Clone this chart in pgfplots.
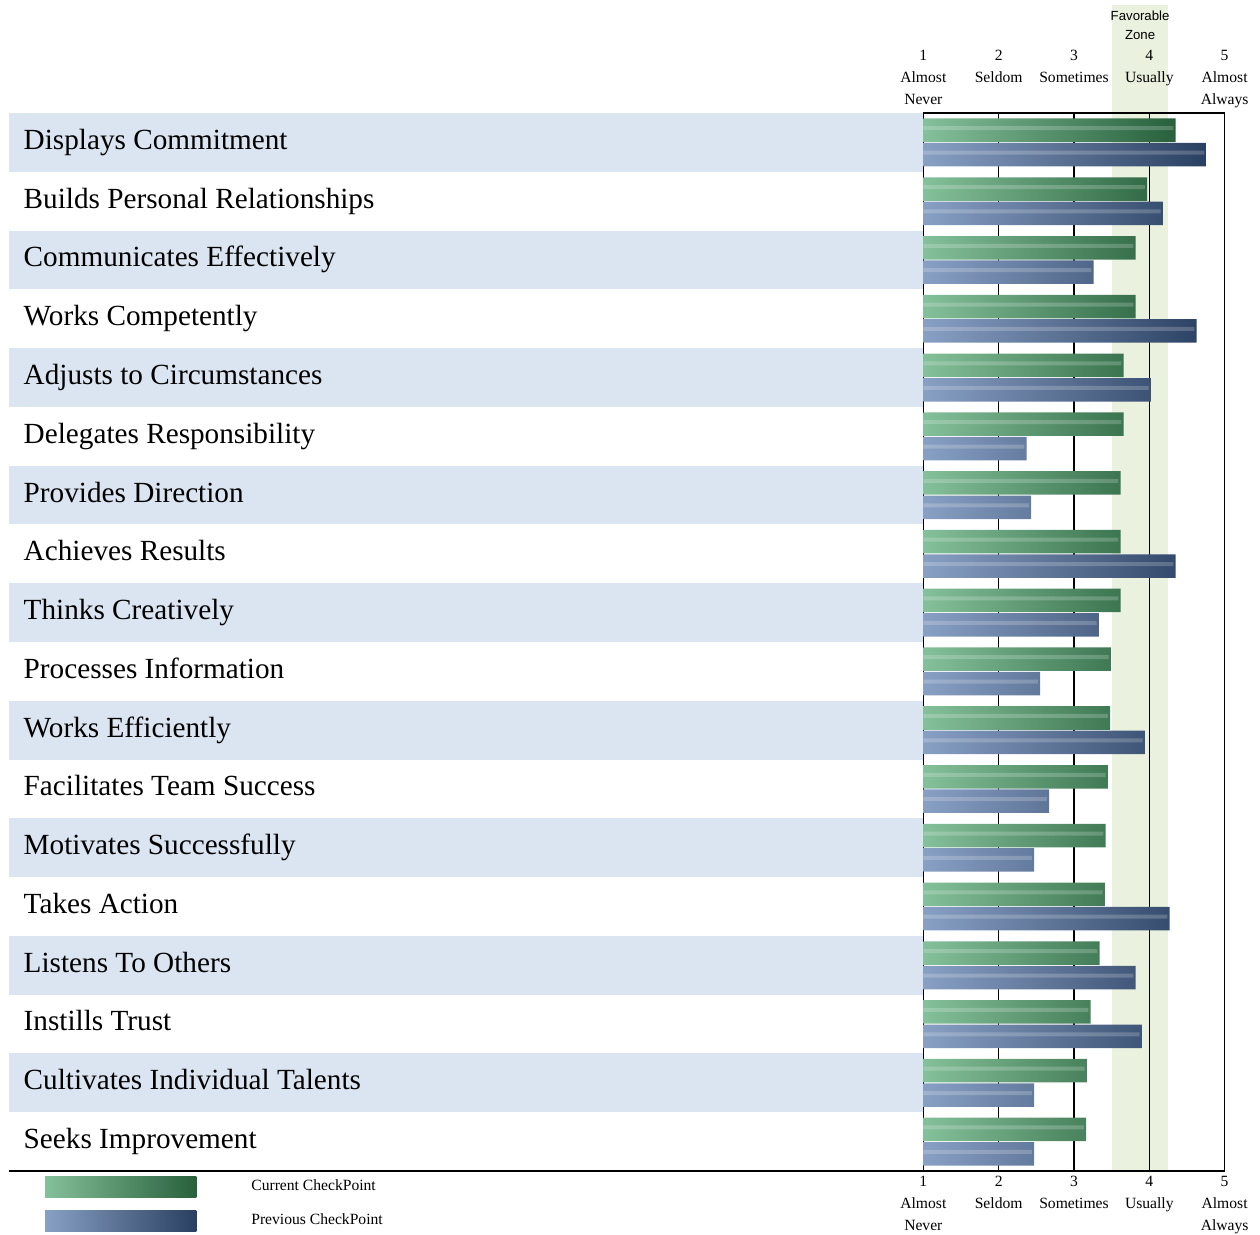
\documentclass[border=0pt]{standalone}
\usepackage{pgfplots}
\pgfplotsset{compat=1.18}
\usepackage{pgfplotstable}
\usepackage{fontspec}
\setmainfont{Liberation Serif}
\newfontfamily\zonefont{Liberation Sans}

\definecolor{bandblue}{RGB}{219,229,241}
\definecolor{zonegreen}{RGB}{234,241,222}
\definecolor{curlight}{RGB}{132,192,154}
\definecolor{curdark}{RGB}{40,96,60}
\definecolor{prevlight}{RGB}{136,160,196}
\definecolor{prevdark}{RGB}{42,64,98}

% scores on the 1..5 scale, row 0 = top
\pgfplotstableread{
idx cur prev
0 4.35 4.76
1 3.97 4.18
2 3.82 3.26
3 3.82 4.63
4 3.66 4.02
5 3.66 2.37
6 3.62 2.43
7 3.62 4.35
8 3.62 3.33
9 3.49 2.55
10 3.48 3.94
11 3.45 2.67
12 3.42 2.47
13 3.41 4.27
14 3.34 3.82
15 3.22 3.90
16 3.17 2.47
17 3.16 2.47
}\scores

\begin{document}
\begin{tikzpicture}
\begin{axis}[
    set layers,
    scale only axis,
    width=150.5pt, height=528.5pt,
    xmin=0, xmax=4, ymin=-0.5, ymax=17.5,
    y dir=reverse,
    clip=false,
    axis line style={line width=0.75pt},
    tick style={draw=none},
    xmajorgrids,
    grid style={black, line width=0.7pt},
    xtick={0,...,4},
    xticklabels={1\\Almost\\Never, 2\\Seldom, 3\\Sometimes, 4\\Usually, 5\\Almost\\Always},
    xticklabel style={font=\fontsize{7.8}{11}\selectfont, align=center, inner sep=0pt, yshift=-2.5pt},
    extra x ticks={0,...,4},
    extra x tick labels={1\\Almost\\Never, 2\\Seldom, 3\\Sometimes, 4\\Usually, 5\\Almost\\Always},
    extra x tick style={xticklabel pos=right, grid=none,
        xticklabel style={font=\fontsize{7.8}{11}\selectfont, align=center, inner sep=0pt,
            anchor=north, yshift=34pt}},
    ytick={0,...,17},
    yticklabels={Displays Commitment, Builds Personal Relationships, Communicates Effectively,
        Works Competently, Adjusts to Circumstances, Delegates Responsibility,
        Provides Direction, Achieves Results, Thinks Creatively, Processes Information,
        Works Efficiently, Facilitates Team Success, Motivates Successfully, Takes Action,
        Listens To Others, Instills Trust, Cultivates Individual Talents, Seeks Improvement},
    yticklabel style={font=\fontsize{14.6}{16}\selectfont, anchor=west, inner sep=0pt,
        text height=10.1pt, text depth=3.2pt, xshift=-449.6pt},
    legend style={draw=none, fill=none, inner sep=0pt, outer sep=0pt,
        at={(-2.915,-0.0050)}, anchor=north west, row sep=6.5pt,
        nodes={inner sep=0pt, font=\fontsize{7.8}{9}\selectfont}},
    legend cell align=left,
    legend image code/.code={\fill[#1] (0pt,-5.25pt) rectangle (75.5pt,5.25pt); \path (103pt,0pt);},
]
\begin{pgfonlayer}{axis background}
  \pgfplotsinvokeforeach{0,2,...,16}{
    \fill[bandblue] (axis cs:-12.14,#1-0.5) rectangle (axis cs:0,#1+0.5);
  }
  \fill[zonegreen] (axis cs:2.5,-2.34) rectangle (axis cs:3.25,17.5);
\end{pgfonlayer}
\path (axis cs:-12.26,-2.424) rectangle (axis cs:4.47,18.573);
\draw[line width=0.75pt] (axis cs:-12.14,17.5) -- (axis cs:0,17.5);
\node[font=\zonefont\fontsize{6.6}{9.5}\selectfont, align=center] at (axis cs:2.878,-1.99) {Favorable\\Zone};

\addplot[xbar, bar width=11.75pt, bar shift=6.1pt, draw=none, left color=curlight, right color=curdark]
    table[x expr=\thisrow{cur}-1, y=idx] {\scores};
\addlegendentry{Current CheckPoint}
\addplot[xbar, bar width=11.75pt, bar shift=-6.1pt, draw=none, left color=prevlight, right color=prevdark]
    table[x expr=\thisrow{prev}-1, y=idx] {\scores};
\addlegendentry{Previous CheckPoint}
\addplot[forget plot, xbar, bar width=2pt, bar shift=7.1pt, draw=none, fill=white, fill opacity=0.2]
    table[x expr=\thisrow{cur}-1.03, y=idx] {\scores};
\addplot[forget plot, xbar, bar width=2pt, bar shift=-5.1pt, draw=none, fill=white, fill opacity=0.2]
    table[x expr=\thisrow{prev}-1.03, y=idx] {\scores};
\end{axis}
\end{tikzpicture}
\end{document}
